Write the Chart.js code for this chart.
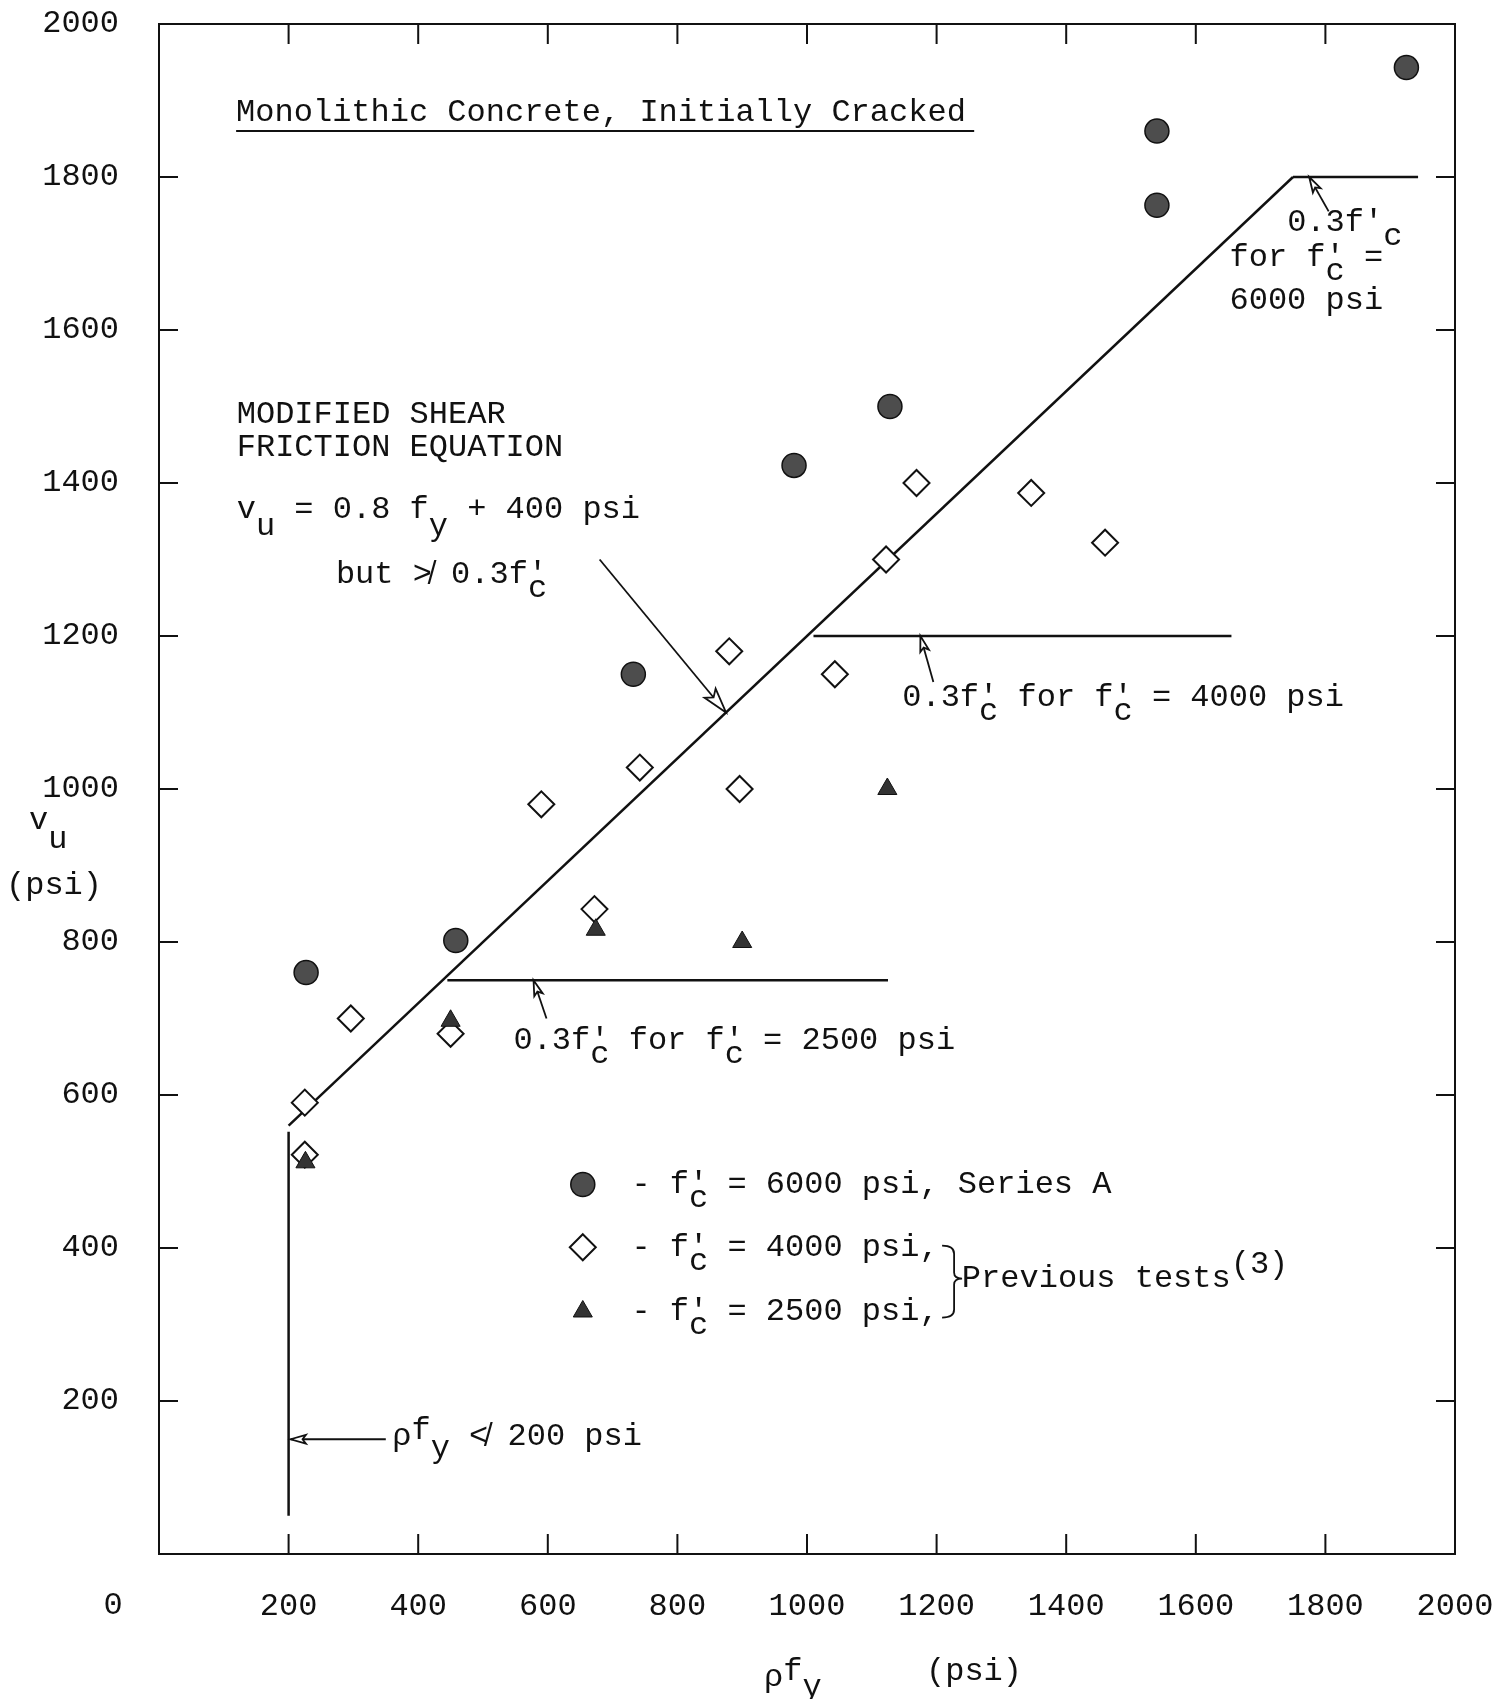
<!DOCTYPE html>
<html>
<head>
<meta charset="utf-8">
<script src="https://cdn.jsdelivr.net/npm/chart.js@4.4.1/dist/chart.umd.min.js"></script>
<style>
  html, body { margin: 0; padding: 0; background: #fff; }
  #wrap { width: 1494px; height: 1699px; }
</style>
</head>
<body>
<div id="wrap"><canvas id="chart" width="1494" height="1699"></canvas></div>
<script>
// f'c = 6000 psi, Series A
const seriesAX = [227, 458, 732, 980, 1128, 1540, 1540, 1925];
const seriesAY = [760, 802, 1150, 1423, 1500, 1763, 1860, 1943];
// f'c = 4000 psi, previous tests
const prev4000X = [225, 225, 296, 450, 590, 672, 742, 880, 896, 1043, 1122, 1169, 1346, 1460];
const prev4000Y = [522, 590, 700, 680, 980, 843, 1028, 1180, 1000, 1150, 1300, 1400, 1387, 1322];
// f'c = 2500 psi, previous tests
const prev2500X = [226, 450, 674, 900, 1124];
const prev2500Y = [512, 697, 816, 800, 1000];

// vu = 0.8 rho*fy + 400 psi, and its limits
const designX = [200, 1750];
const designY = [560, 1800];
const minRhoX = [200, 200];
const minRhoY = [50, 552];
const cap6000X = [1750, 1943];
const cap6000Y = [1800, 1800];
const cap4000X = [1010, 1655];
const cap4000Y = [1200, 1200];
const cap2500X = [445, 1125];
const cap2500Y = [750, 750];

const tickValues = [200, 400, 600, 800, 1000, 1200, 1400, 1600, 1800];

const FAMILY = '"Liberation Mono", "DejaVu Sans Mono", monospace';
const FONT = '32px ' + FAMILY;
const INK = '#111';

const pts = (xs, ys) => xs.map((x, i) => ({ x: x, y: ys[i] }));

// f with prime over a subscript c (typewriter backspace style)
const fc = ['f', ["'", 0, true], ['c', 14]];

const notes = [
  { x: 119, y: 1884, parts: ['Monolithic Concrete, Initially Cracked'] },
  { x: 120, y: 1489, parts: ['MODIFIED SHEAR'] },
  { x: 120, y: 1446, parts: ['FRICTION EQUATION'] },
  { x: 120, y: 1365, parts: ['v', ['u', 17], ' = 0.8 f', ['y', 17], ' + 400 psi'] },
  { x: 273, y: 1280, parts: ['but ≯ 0.3', ...fc] },
  { x: 1147, y: 1120, parts: ['0.3', ...fc, ' for ', ...fc, ' = 4000 psi'] },
  { x: 547, y: 671, parts: ['0.3', ...fc, ' for ', ...fc, ' = 2500 psi'] },
  { x: 1741, y: 1741, parts: ["0.3f'", ['c', 14]] },
  { x: 1652, y: 1695, parts: ['for ', ...fc, ' ='] },
  { x: 1652, y: 1639, parts: ['6000 psi'] },
  { x: 360, y: 153, parts: ['ρ', ['f', -6], ['y', 12], ' ≮ 200 psi'] },
  { x: 729, y: 483, parts: ['- ', ...fc, ' = 6000 psi, Series A'] },
  { x: 729, y: 401, parts: ['- ', ...fc, ' = 4000 psi,'] },
  { x: 729, y: 317, parts: ['- ', ...fc, ' = 2500 psi,'] },
  { x: 1239, y: 360, parts: ['Previous tests', ['(3)', -14]] }
];

const arrows = [
  { from: [680, 1300], to: [875, 1100], head: 26 },
  { from: [1195, 1140], to: [1175, 1200], head: 16 },
  { from: [598, 700], to: [578, 750], head: 16 },
  { from: [1805, 1755], to: [1775, 1800], head: 16 },
  { from: [350, 150], to: [203, 150], head: 16 }
];

function richText(ctx, x, y, parts) {
  let cx = x;
  parts.forEach(p => {
    const [t, dy = 0, stay = false] = typeof p === 'string' ? [p] : p;
    ctx.fillText(t, cx, y + dy);
    if (!stay) cx += ctx.measureText(t).width;
  });
  return cx;
}

function drawArrow(ctx, x0, y0, x1, y1, len) {
  const a = Math.atan2(y1 - y0, x1 - x0);
  const w = 0.28;
  ctx.save();
  ctx.beginPath();
  ctx.moveTo(x0, y0);
  ctx.lineTo(x1, y1);
  ctx.stroke();
  ctx.beginPath();
  ctx.moveTo(x1, y1);
  ctx.lineTo(x1 - len * Math.cos(a - w), y1 - len * Math.sin(a - w));
  ctx.lineTo(x1 - len * 0.75 * Math.cos(a), y1 - len * 0.75 * Math.sin(a));
  ctx.lineTo(x1 - len * Math.cos(a + w), y1 - len * Math.sin(a + w));
  ctx.closePath();
  ctx.fillStyle = '#fff';
  ctx.fill();
  ctx.stroke();
  ctx.restore();
}

function marker(ctx, kind, x, y) {
  ctx.save();
  ctx.strokeStyle = INK;
  ctx.beginPath();
  if (kind === 'circle') {
    ctx.arc(x, y, 12, 0, Math.PI * 2);
    ctx.fillStyle = '#4d4d4d';
    ctx.lineWidth = 1.5;
    ctx.fill();
    ctx.stroke();
  } else if (kind === 'diamond') {
    ctx.moveTo(x, y - 13); ctx.lineTo(x + 13, y); ctx.lineTo(x, y + 13); ctx.lineTo(x - 13, y);
    ctx.closePath();
    ctx.fillStyle = '#fff';
    ctx.lineWidth = 2;
    ctx.fill();
    ctx.stroke();
  } else {
    const r = 11;
    ctx.moveTo(x, y - r); ctx.lineTo(x + r * 0.866, y + r / 2); ctx.lineTo(x - r * 0.866, y + r / 2);
    ctx.closePath();
    ctx.fillStyle = '#333';
    ctx.lineWidth = 1;
    ctx.fill();
    ctx.stroke();
  }
  ctx.restore();
}

const paperPlugin = {
  id: 'paper',
  afterDraw(chart) {
    const ctx = chart.ctx;
    const xs = chart.scales.x, ys = chart.scales.y;
    const px = v => xs.getPixelForValue(v);
    const py = v => ys.getPixelForValue(v);
    const a = chart.chartArea;
    ctx.save();

    // frame and inward ticks on all four sides
    ctx.strokeStyle = INK;
    ctx.lineWidth = 2;
    ctx.strokeRect(a.left, a.top, a.right - a.left, a.bottom - a.top);
    ctx.beginPath();
    tickValues.forEach(v => {
      ctx.moveTo(px(v), a.bottom); ctx.lineTo(px(v), a.bottom - 20);
      ctx.moveTo(px(v), a.top); ctx.lineTo(px(v), a.top + 20);
      ctx.moveTo(a.left, py(v)); ctx.lineTo(a.left + 19, py(v));
      ctx.moveTo(a.right, py(v)); ctx.lineTo(a.right - 19, py(v));
    });
    ctx.stroke();

    ctx.font = FONT;
    ctx.fillStyle = INK;
    ctx.textBaseline = 'middle';
    ctx.textAlign = 'left';

    notes.forEach(n => richText(ctx, px(n.x), py(n.y), n.parts));

    // title underline
    ctx.lineWidth = 2;
    ctx.beginPath();
    ctx.moveTo(px(119), py(1860));
    ctx.lineTo(px(1258), py(1860));
    ctx.stroke();

    // arrows
    ctx.lineWidth = 1.8;
    arrows.forEach(r => drawArrow(ctx, px(r.from[0]), py(r.from[1]), px(r.to[0]), py(r.to[1]), r.head));

    // legend keys
    marker(ctx, 'circle', px(654), py(483));
    marker(ctx, 'diamond', px(654), py(401));
    marker(ctx, 'triangle', px(654), py(317));

    // brace grouping previous tests
    const bx = px(1227), bt = py(403), bm = py(360), bb = py(309);
    ctx.lineWidth = 1.8;
    ctx.beginPath();
    ctx.moveTo(bx - 12, bt);
    ctx.quadraticCurveTo(bx, bt, bx, bt + 8);
    ctx.lineTo(bx, bm - 6);
    ctx.quadraticCurveTo(bx, bm, bx + 8, bm);
    ctx.quadraticCurveTo(bx, bm, bx, bm + 6);
    ctx.lineTo(bx, bb - 8);
    ctx.quadraticCurveTo(bx, bb, bx - 12, bb);
    ctx.stroke();

    // axis titles and origin label
    ctx.fillStyle = INK;
    ctx.textAlign = 'center';
    ctx.fillText('0', a.left - 46, a.bottom + 52);
    ctx.textAlign = 'left';
    richText(ctx, a.left - 130, a.top + 797, ['v', ['u', 19]]);
    ctx.textAlign = 'center';
    ctx.fillText('(psi)', a.left - 105, a.top + 862);
    ctx.textAlign = 'left';
    richText(ctx, a.left + 605, a.bottom + 124, ['ρ', ['f', -6], ['y', 10]]);
    ctx.fillText('(psi)', a.left + 767, a.bottom + 118);

    ctx.restore();
  }
};

const lineSet = (xs, ys) => ({
  type: 'line',
  data: pts(xs, ys),
  showLine: true,
  borderColor: INK,
  borderWidth: 2.5,
  pointRadius: 0,
  fill: false,
  order: 5
});

// keep the plot frame exactly where the layout padding puts it
const noEdgePad = s => {
  s.paddingTop = 0; s.paddingBottom = 0; s.paddingLeft = 0; s.paddingRight = 0;
};

new Chart(document.getElementById('chart'), {
  type: 'scatter',
  data: {
    datasets: [
      lineSet(designX, designY),
      lineSet(minRhoX, minRhoY),
      lineSet(cap6000X, cap6000Y),
      lineSet(cap4000X, cap4000Y),
      lineSet(cap2500X, cap2500Y),
      {
        label: "f'c = 4000 psi",
        data: pts(prev4000X, prev4000Y),
        pointStyle: 'rectRot',
        pointRadius: 13,
        backgroundColor: '#fff',
        borderColor: INK,
        borderWidth: 2,
        order: 3
      },
      {
        label: "f'c = 6000 psi, Series A",
        data: pts(seriesAX, seriesAY),
        pointStyle: 'circle',
        pointRadius: 12,
        backgroundColor: '#4d4d4d',
        borderColor: INK,
        borderWidth: 1.5,
        order: 2
      },
      {
        label: "f'c = 2500 psi",
        data: pts(prev2500X, prev2500Y),
        pointStyle: 'triangle',
        pointRadius: 11,
        backgroundColor: '#333',
        borderColor: INK,
        borderWidth: 1,
        order: 1
      }
    ]
  },
  options: {
    responsive: false,
    animation: false,
    devicePixelRatio: 1,
    layout: { padding: { left: 10, right: 39, top: 24, bottom: 65 } },
    plugins: { legend: { display: false }, tooltip: { enabled: false } },
    scales: {
      x: {
        type: 'linear',
        min: 0,
        max: 2000,
        grid: { display: false, drawTicks: false },
        border: { display: false },
        ticks: {
          stepSize: 200,
          padding: 33,
          maxRotation: 0,
          autoSkip: false,
          color: INK,
          font: { family: FAMILY, size: 32 },
          callback: v => (v === 0 ? '' : v)
        },
        afterFit: s => { s.height = 80; noEdgePad(s); }
      },
      y: {
        type: 'linear',
        min: 0,
        max: 2000,
        grid: { display: false, drawTicks: false },
        border: { display: false },
        ticks: {
          stepSize: 200,
          padding: 40,
          autoSkip: false,
          color: INK,
          font: { family: FAMILY, size: 32 },
          callback: v => (v === 0 ? '' : v)
        },
        afterFit: s => { s.width = 149; noEdgePad(s); }
      }
    }
  },
  plugins: [paperPlugin]
});
</script>
</body>
</html>
